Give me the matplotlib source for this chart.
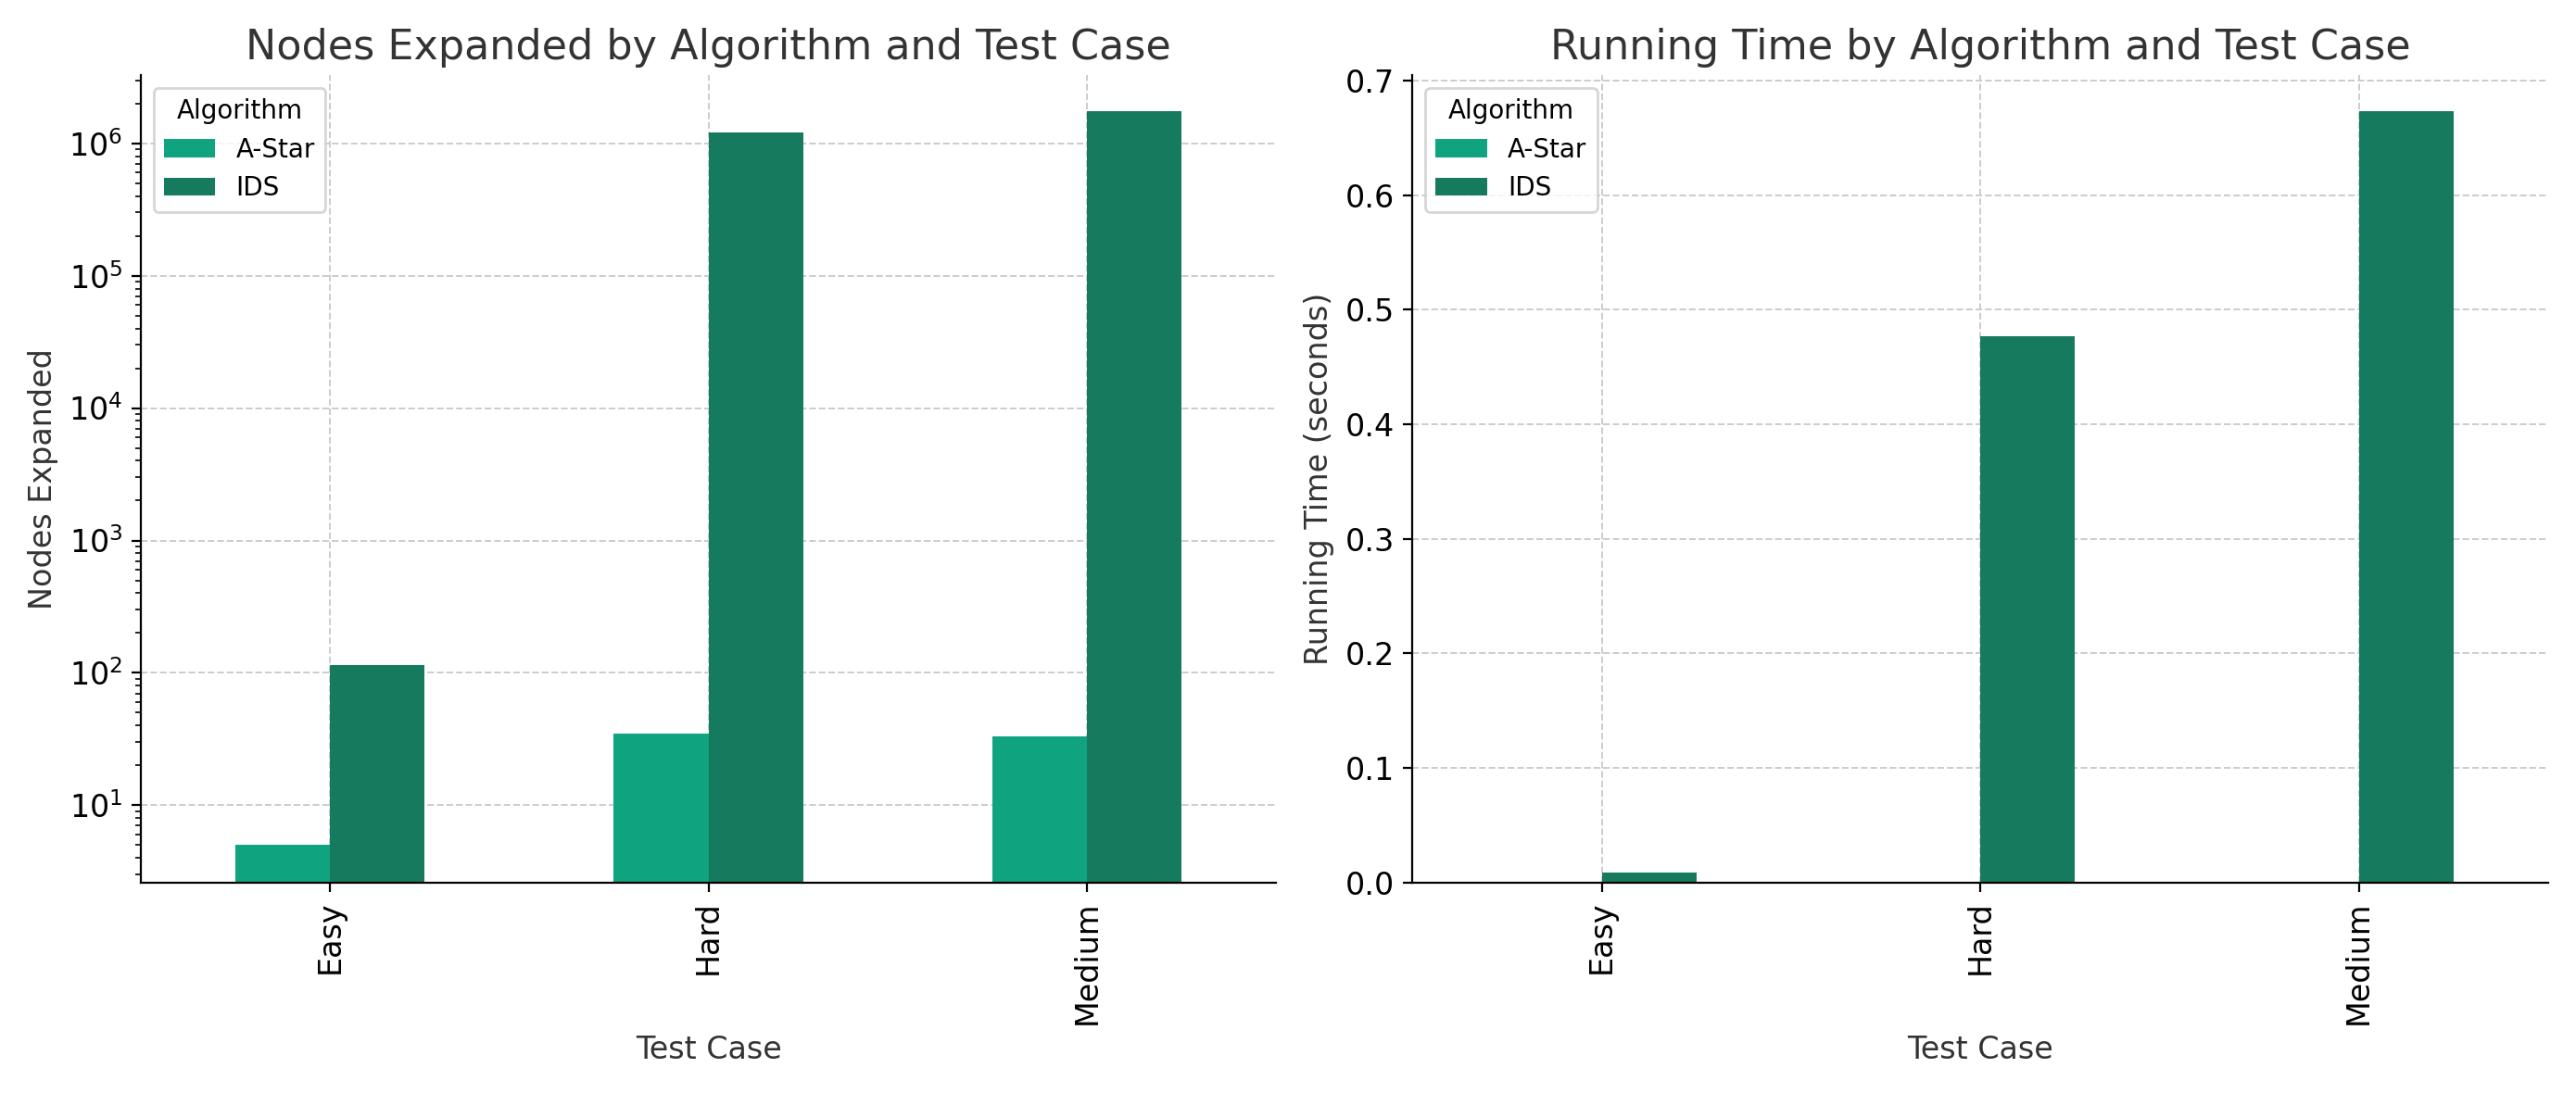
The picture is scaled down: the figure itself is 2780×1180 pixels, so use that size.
import numpy as np
import matplotlib
matplotlib.use('Agg')
import matplotlib.pyplot as plt

cases = ['Easy', 'Hard', 'Medium']
algorithms = ['A-Star', 'IDS']
colors = ['#10a37f', '#167a5f']

nodes_astar = [5, 35, 33]
nodes_ids = [115, 1200000, 1750000]
time_astar = [0.0003, 0.001, 0.001]
time_ids = [0.009, 0.477, 0.673]

plt.rcParams['font.family'] = ['DejaVu Sans']

fig, axes = plt.subplots(1, 2, figsize=(13.9, 5.9), dpi=200)
x = np.arange(len(cases))
w = 0.25


def draw(ax, a, b, title, ylabel, log=False):
    ax.bar(x - w / 2, a, w, color=colors[0], label=algorithms[0], zorder=2)
    ax.bar(x + w / 2, b, w, color=colors[1], label=algorithms[1], zorder=2)
    if log:
        ax.set_yscale('log')
    ax.set_xticks(x)
    ax.set_xticklabels(cases, rotation=90, fontsize=12)
    ax.tick_params(axis='y', labelsize=12)
    ax.set_xlim(-0.5, 2.5)
    ax.set_title(title, fontsize=16, color='#333333')
    ax.set_xlabel('Test Case', fontsize=12, color='#333333')
    ax.set_ylabel(ylabel, fontsize=12, color='#333333')
    ax.grid(True, linestyle='--', color='#cccccc', linewidth=0.7, zorder=0)
    ax.spines['top'].set_visible(False)
    ax.spines['right'].set_visible(False)
    ax.legend(title='Algorithm', loc='upper left', fontsize=10, title_fontsize=10)


draw(axes[0], nodes_astar, nodes_ids, 'Nodes Expanded by Algorithm and Test Case',
     'Nodes Expanded', log=True)
axes[0].set_ylim(2.6, 3.3e6)
draw(axes[1], time_astar, time_ids, 'Running Time by Algorithm and Test Case',
     'Running Time (seconds)')
axes[1].set_ylim(0, 0.705)

plt.tight_layout()
plt.savefig('out.png')
